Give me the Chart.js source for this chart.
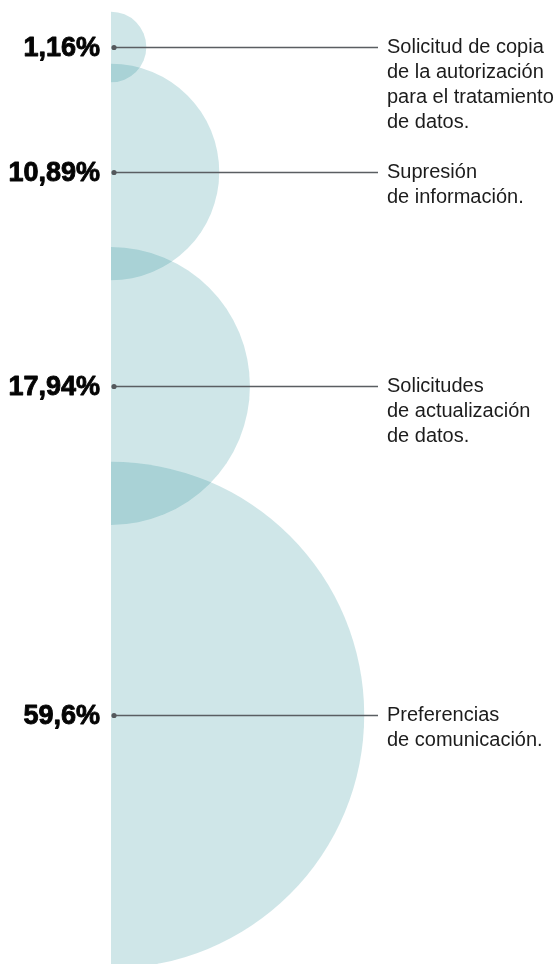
<!DOCTYPE html>
<html lang="es">
<head>
<meta charset="utf-8">
<title>Solicitudes</title>
<script src="https://cdn.jsdelivr.net/npm/chart.js@4"></script>
<style>
  html, body { margin: 0; padding: 0; background: #fff; }
  #wrap { position: relative; width: 557px; height: 964px; }
</style>
</head>
<body>
<div id="wrap"><canvas id="bubbles"></canvas></div>
<script>
// data
const categories = [
  ["Solicitud de copia", "de la autorización", "para el tratamiento", "de datos."],
  ["Supresión", "de información."],
  ["Solicitudes", "de actualización", "de datos."],
  ["Preferencias", "de comunicación."],
];
const shares = [1.16, 10.89, 17.94, 59.6];

// layout (pixels)
const rowY = [47, 172, 386, 715];
const AXIS_X = 111;
const RADIUS_K = 32.8; // area proportional to share
const LINE_END = 378;
const TEXT_X = 387;
const LINE_GAP = 25;

function formatShare(value) {
  return `${String(value).replace(".", ",")}%`;
}

const points = shares.map((v, i) => ({
  x: 0,
  y: rowY[i],
  r: RADIUS_K * Math.sqrt(v),
}));

const calloutPlugin = {
  id: "callouts",
  afterDatasetsDraw(chart) {
    const { ctx } = chart;
    const meta = chart.getDatasetMeta(0);
    const yScale = chart.scales.y;

    ctx.save();
    meta.data.forEach((el, i) => {
      const y = Math.round(yScale.getPixelForValue(rowY[i])) + 0.5;
      const x0 = el.x + 3;

      ctx.strokeStyle = "#5a5e62";
      ctx.lineWidth = 1.5;
      ctx.beginPath();
      ctx.moveTo(x0, y);
      ctx.lineTo(LINE_END, y);
      ctx.stroke();

      ctx.fillStyle = "#54585c";
      ctx.beginPath();
      ctx.arc(x0, y, 2.6, 0, Math.PI * 2);
      ctx.fill();

      // heavy percentage figure
      ctx.fillStyle = "#050505";
      ctx.strokeStyle = "#050505";
      ctx.lineWidth = 0.9;
      ctx.lineJoin = "round";
      ctx.font = "bold 27px 'Liberation Sans', Arial, sans-serif";
      ctx.textAlign = "right";
      ctx.textBaseline = "middle";
      ctx.fillText(formatShare(shares[i]), 100, y + 1);
      ctx.strokeText(formatShare(shares[i]), 100, y + 1);

      ctx.fillStyle = "#1c1c1c";
      ctx.font = "20px 'Liberation Sans', Arial, sans-serif";
      ctx.textAlign = "left";
      categories[i].forEach((line, j) => {
        ctx.fillText(line, TEXT_X, y + j * LINE_GAP);
      });
    });
    ctx.restore();
  },
};

new Chart(document.getElementById("bubbles"), {
  type: "bubble",
  data: {
    datasets: [
      {
        data: points,
        backgroundColor: "rgba(15, 130, 140, 0.2)",
        borderWidth: 0,
        hoverBorderWidth: 0,
        clip: { left: 0, top: false, right: false, bottom: false },
      },
    ],
  },
  options: {
    responsive: true,
    maintainAspectRatio: false,
    animation: false,
    events: [],
    layout: { padding: { left: AXIS_X, right: 0, top: 0, bottom: 0 }, autoPadding: false },
    plugins: {
      legend: { display: false },
      tooltip: { enabled: false },
    },
    scales: {
      x: { type: "linear", display: false, min: 0, max: 557 - AXIS_X },
      y: { type: "linear", display: false, min: 0, max: 964, reverse: true },
    },
  },
  plugins: [calloutPlugin],
});
</script>
</body>
</html>
